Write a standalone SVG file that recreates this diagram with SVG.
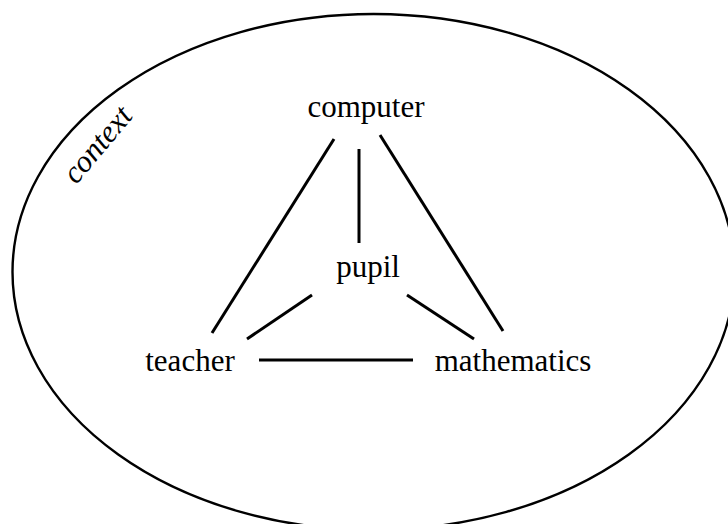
<svg xmlns="http://www.w3.org/2000/svg" width="728" height="524" viewBox="0 0 728 524">
<style>
.lbl{font-family:"Liberation Serif","Times New Roman",serif;font-size:31px;fill:#000;text-anchor:middle}
.ctx{font-family:"Liberation Serif","Times New Roman",serif;font-size:31px;font-style:italic;fill:#000;text-anchor:middle}
.edge{stroke:#000;stroke-width:3;fill:none;stroke-linecap:butt}
</style>
<rect width="728" height="524" fill="#fff"/>
<g id="context">
<ellipse cx="373.5" cy="272" rx="361" ry="258" fill="none" stroke="#000" stroke-width="2.4"/>
<text class="ctx" transform="translate(105,151) rotate(-50)">context</text>
</g>
<g id="connectors">
<line class="edge" x1="334" y1="139" x2="212" y2="333"/>
<line class="edge" x1="359" y1="149" x2="359" y2="243"/>
<line class="edge" x1="380" y1="135" x2="503" y2="331"/>
<line class="edge" x1="312" y1="295" x2="247" y2="339"/>
<line class="edge" x1="407" y1="295" x2="474" y2="339"/>
<line class="edge" x1="259" y1="360" x2="413" y2="360"/>
</g>
<g id="computer"><text class="lbl" x="366" y="117">computer</text></g>
<g id="pupil"><text class="lbl" x="368" y="277">pupil</text></g>
<g id="teacher"><text class="lbl" x="190" y="371">teacher</text></g>
<g id="mathematics"><text class="lbl" x="513" y="371">mathematics</text></g>
</svg>
